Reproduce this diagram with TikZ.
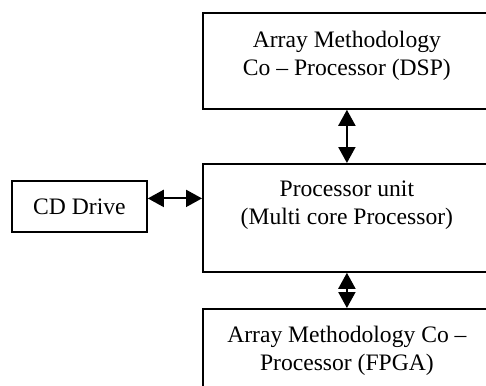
\documentclass[tikz,border=0pt]{standalone}
\usepackage{fontspec}
\setmainfont{Liberation Serif}
\usetikzlibrary{arrows.meta}

\tikzset{
  blk/.style={draw, line width=0.9pt, inner sep=0pt, anchor=north west,
    font=\fontsize{11.8}{14}\selectfont},
  link/.style={line width=1pt,
    {Triangle[length=8pt,width=8.5pt]}-{Triangle[length=8pt,width=8.5pt]}}
}
\newcommand{\blktext}[3]{\parbox[c][#1][t]{144pt}{\centering\vspace*{#2}\strut #3}}

\begin{document}
\begin{tikzpicture}[x=0.5pt,y=-0.5pt]
\useasboundingbox (0,0) rectangle (486,385);
\clip (0,0) rectangle (486,385);

\node[blk] (dsp)  at (202, 12) {\blktext{48pt}{7.7pt}{Array Methodology\\Co -- Processor (DSP)}};
\node[blk] (proc) at (202,163) {\blktext{54pt}{6.7pt}{Processor unit\\(Multi core Processor)}};
\node[blk] (fpga) at (202,308) {\blktext{50pt}{7.2pt}{Array Methodology Co --\\Processor (FPGA)}};
\node[blk, minimum width=67.5pt, minimum height=25.5pt] (cd) at (11,180) {CD Drive};

\draw[link] (dsp)  -- (proc);
\draw[link] (proc) -- (fpga);
\draw[link] ([yshift=4pt]cd.east) -- ([yshift=4pt]cd.east -| proc.west);
\end{tikzpicture}
\end{document}
